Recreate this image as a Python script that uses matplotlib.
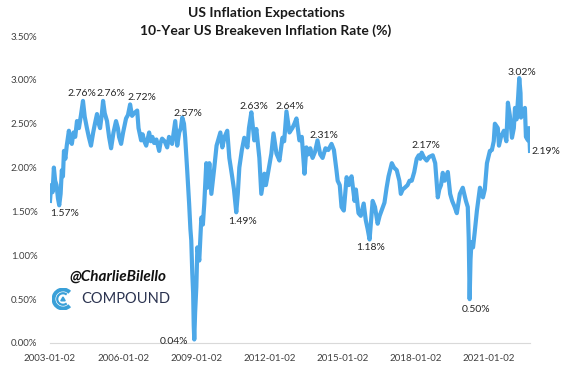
import pandas as pd
import numpy as np
import matplotlib.pyplot as plt
import matplotlib.dates as mdates
from matplotlib.patches import Arc, Polygon
from matplotlib.ticker import FuncFormatter

plt.rcParams['font.family'] = ['Lato', 'DejaVu Sans']

# 10-year breakeven
dates = ['2003-01-02', '2003-01-20', '2003-02-10', '2003-03-01', '2003-03-20', '2003-04-10',
         '2003-05-01', '2003-05-20', '2003-06-10', '2003-06-28', '2003-07-15', '2003-07-30',
         '2003-08-20', '2003-09-10', '2003-10-12', '2003-11-01', '2003-11-25', '2003-12-20',
         '2004-01-15', '2004-02-10', '2004-03-10', '2004-04-10', '2004-05-10', '2004-06-05',
         '2004-07-08', '2004-08-05', '2004-09-07', '2004-10-10', '2004-11-05', '2004-12-06',
         '2005-01-01', '2005-01-21', '2005-02-15', '2005-03-07', '2005-04-01', '2005-05-05',
         '2005-06-05', '2005-07-05', '2005-08-10', '2005-09-17', '2005-10-15', '2005-11-01',
         '2005-12-02', '2006-01-01', '2006-02-14', '2006-03-15', '2006-04-16', '2006-05-15',
         '2006-06-15', '2006-07-31', '2006-08-20', '2006-09-28', '2006-10-20', '2006-11-15',
         '2006-12-13', '2007-01-26', '2007-02-20', '2007-03-15', '2007-04-11', '2007-05-15',
         '2007-06-25', '2007-07-15', '2007-08-08', '2007-09-15', '2007-10-23', '2007-11-20',
         '2008-01-05', '2008-02-21', '2008-03-22', '2008-04-20', '2008-05-15', '2008-06-05',
         '2008-07-01', '2008-07-19', '2008-08-18', '2008-09-16', '2008-10-05', '2008-10-18',
         '2008-11-02', '2008-11-15', '2008-11-24', '2008-12-02', '2008-12-15', '2009-01-02',
         '2009-01-17', '2009-02-15', '2009-03-18', '2009-04-10', '2009-05-01', '2009-05-31',
         '2009-06-15', '2009-07-16', '2009-08-15', '2009-09-28', '2009-11-01', '2009-12-28',
         '2010-01-26', '2010-03-01', '2010-04-10', '2010-05-11', '2010-06-24', '2010-07-20',
         '2010-08-23', '2010-09-15', '2010-10-08', '2010-11-15', '2010-12-21', '2011-02-06',
         '2011-03-01', '2011-04-06', '2011-05-20', '2011-06-20', '2011-08-04', '2011-09-02',
         '2011-10-18', '2011-11-10', '2011-12-01', '2012-01-31', '2012-03-03', '2012-04-16',
         '2012-05-31', '2012-07-15', '2012-08-10', '2012-09-13', '2012-10-28', '2012-12-10',
         '2013-01-10', '2013-02-10', '2013-03-26', '2013-05-01', '2013-06-10', '2013-07-09',
         '2013-08-10', '2013-09-05', '2013-10-09', '2013-11-15', '2013-12-22', '2014-02-01',
         '2014-03-08', '2014-04-20', '2014-06-01', '2014-07-20', '2014-08-25', '2014-10-02',
         '2014-10-20', '2014-11-20', '2014-12-17', '2015-01-20', '2015-03-03', '2015-04-05',
         '2015-05-16', '2015-06-30', '2015-07-20', '2015-08-28', '2015-10-01', '2015-11-14',
         '2015-12-15', '2016-01-12', '2016-02-10', '2016-03-27', '2016-05-01', '2016-06-10',
         '2016-07-10', '2016-08-08', '2016-09-20', '2016-10-22', '2016-11-20', '2017-01-08',
         '2017-02-10', '2017-03-23', '2017-05-01', '2017-05-23', '2017-06-20', '2017-07-21',
         '2017-09-01', '2017-10-01', '2017-11-03', '2017-12-10', '2018-01-16', '2018-02-15',
         '2018-03-10', '2018-04-01', '2018-05-01', '2018-06-14', '2018-07-20', '2018-09-13',
         '2018-10-20', '2018-11-28', '2018-12-20', '2019-01-15', '2019-02-10', '2019-03-10',
         '2019-04-27', '2019-06-01', '2019-07-01', '2019-08-08', '2019-09-09', '2019-10-24',
         '2019-12-07', '2020-01-23', '2020-02-20', '2020-03-05', '2020-03-19', '2020-04-01',
         '2020-04-15', '2020-05-09', '2020-06-01', '2020-07-06', '2020-08-20', '2020-10-04',
         '2020-11-01', '2020-12-03', '2021-01-16', '2021-02-15', '2021-03-15', '2021-04-01',
         '2021-05-15', '2021-06-01', '2021-07-01', '2021-08-14', '2021-09-20', '2021-10-13',
         '2021-11-10', '2021-12-13', '2022-01-10', '2022-01-27', '2022-02-20', '2022-03-15',
         '2022-04-01', '2022-04-20', '2022-04-27', '2022-05-20', '2022-06-25', '2022-07-10',
         '2022-08-10', '2022-08-25', '2022-09-09']
rate = [1.62, 1.80, 1.72, 2.00, 1.85, 1.80,
        1.65, 1.57, 1.70, 1.97, 1.90, 2.19,
        2.10, 2.25, 2.42, 2.30, 2.27, 2.40,
        2.35, 2.53, 2.45, 2.60, 2.76, 2.58,
        2.45, 2.35, 2.25, 2.40, 2.50, 2.61,
        2.50, 2.45, 2.60, 2.76, 2.62, 2.53,
        2.35, 2.22, 2.40, 2.53, 2.45, 2.35,
        2.27, 2.40, 2.56, 2.60, 2.72, 2.59,
        2.62, 2.65, 2.45, 2.31, 2.38, 2.30,
        2.25, 2.40, 2.30, 2.35, 2.28, 2.32,
        2.19, 2.28, 2.33, 2.30, 2.23, 2.35,
        2.27, 2.53, 2.25, 2.40, 2.45, 2.57,
        2.50, 2.34, 1.97, 1.59, 1.30, 1.17,
        0.80, 0.57, 0.20, 0.04, 0.35, 0.64,
        1.09, 0.94, 1.43, 1.35, 1.59, 2.05,
        1.77, 2.05, 1.70, 2.00, 2.25, 2.40,
        2.23, 2.35, 2.42, 2.11, 1.89, 1.75,
        1.49, 1.70, 2.00, 2.20, 2.34, 2.23,
        2.45, 2.63, 2.31, 2.44, 2.11, 1.70,
        1.93, 1.80, 1.89, 2.16, 2.39, 2.16,
        2.08, 2.34, 2.30, 2.64, 2.40, 2.45,
        2.50, 2.56, 2.31, 2.35, 1.93, 2.23,
        2.15, 2.22, 2.11, 2.18, 2.31, 2.15,
        2.11, 2.22, 2.20, 2.27, 2.20, 1.97,
        1.85, 1.80, 1.55, 1.51, 1.89, 1.80,
        1.90, 1.62, 1.75, 1.48, 1.45, 1.59,
        1.40, 1.30, 1.18, 1.62, 1.55, 1.36,
        1.45, 1.51, 1.60, 1.77, 1.90, 2.05,
        2.00, 1.97, 1.85, 1.70, 1.75, 1.77,
        1.80, 1.85, 1.85, 1.95, 2.10, 2.14,
        2.10, 2.17, 2.12, 2.08, 2.12, 2.14,
        2.05, 1.66, 1.75, 1.80, 1.94, 1.85,
        1.95, 1.70, 1.62, 1.55, 1.48, 1.70,
        1.77, 1.62, 1.55, 1.20, 0.50, 0.95,
        1.15, 1.09, 1.25, 1.51, 1.77, 1.66,
        1.75, 2.05, 2.19, 2.20, 2.30, 2.50,
        2.45, 2.25, 2.35, 2.42, 2.30, 2.74,
        2.60, 2.34, 2.45, 2.68, 2.55, 2.80,
        3.02, 2.85, 2.57, 2.65, 2.68, 2.35,
        2.31, 2.45, 2.19]

# data labels (text, anchor date, anchor value)
label_text = ['2.76%', '2.76%', '2.72%', '2.57%', '1.57%', '0.04%', '1.49%', '2.63%',
              '2.64%', '2.31%', '1.18%', '2.17%', '0.50%', '3.02%', '2.19%']
label_date = ['2004-04-23', '2005-07-02', '2006-10-09', '2008-08-29', '2003-08-13',
              '2008-02-03', '2010-12-02', '2011-05-15', '2012-11-04', '2014-03-29',
              '2016-03-03', '2018-06-03', '2020-06-21', '2022-05-12', '2023-05-06']
label_val = [2.84, 2.84, 2.80, 2.62, 1.48, 0.02, 1.39, 2.70, 2.70, 2.36, 1.09, 2.25,
             0.38, 3.08, 2.18]

tick_dates = ['2003-01-02', '2006-01-02', '2009-01-02', '2012-01-02', '2015-01-02',
              '2018-01-02', '2021-01-02']

df = pd.DataFrame({'date': pd.to_datetime(dates), 'rate': rate})

fig = plt.figure(figsize=(5.64, 3.76), dpi=100)
ax = fig.add_axes([50 / 564, 33 / 376, 480 / 564, 307 / 376])

ax.plot(df['date'], df['rate'], color='#4DA8E8', lw=3.0, solid_joinstyle='round')

for t, d, v in zip(label_text, label_date, label_val):
    ax.text(pd.Timestamp(d), v, t, ha='center', va='center', fontsize=7.5, color='#262626')

ax.set_xlim(pd.Timestamp('2003-01-02'), pd.Timestamp('2022-09-09'))
ax.set_ylim(0, 3.5)
ax.set_yticks(np.arange(0, 3.51, 0.5))
ax.yaxis.set_major_formatter(FuncFormatter(lambda v, p: '%.2f%%' % v))
ax.set_xticks(pd.to_datetime(tick_dates))
ax.xaxis.set_major_formatter(mdates.DateFormatter('%Y-%m-%d'))
ax.tick_params(axis='both', length=0, labelsize=7, colors='#404040')
ax.tick_params(axis='y', pad=9)
ax.tick_params(axis='x', pad=8)
for s in ['top', 'right', 'left']:
    ax.spines[s].set_visible(False)
ax.spines['bottom'].set_color('#d9d9d9')

fig.text(266 / 564, 1 - 13 / 376, 'US Inflation Expectations', ha='center', va='center',
         fontsize=10, fontweight='bold', color='#1a1a1a')
fig.text(266 / 564, 1 - 31 / 376, '10-Year US Breakeven Inflation Rate (%)', ha='center',
         va='center', fontsize=10, fontweight='bold', color='#1a1a1a')

# watermark
fig.text(118 / 564, 1 - 277 / 376, '@CharlieBilello', ha='center', va='center',
         fontsize=11, fontweight='bold', style='italic', color='#111111')
fig.text(81 / 564, 1 - 299 / 376, 'COMPOUND', ha='left', va='center',
         fontsize=10.5, color='#2b3350')
lg = fig.add_axes([52 / 564, 1 - 310 / 376, 22 / 564, 22 / 376])
lg.set_xlim(-1.1, 1.1)
lg.set_ylim(-1.1, 1.1)
lg.set_aspect('equal')
lg.axis('off')
lg.add_patch(Arc((0, 0), 1.9, 1.9, theta1=45, theta2=315, lw=2.8, color='#3aa0d8'))
lg.add_patch(Arc((0, 0), 1.15, 1.15, theta1=50, theta2=310, lw=1.6, color='#3aa0d8'))
lg.add_patch(Polygon([[-0.22, -0.18], [0.22, -0.18], [0, 0.2]], color='#3aa0d8'))

fig.savefig('out.png', dpi=100)
